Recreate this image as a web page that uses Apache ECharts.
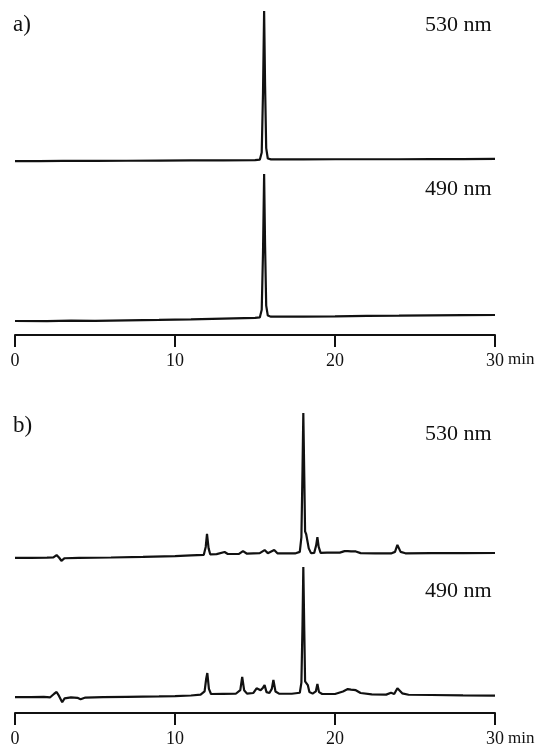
<!DOCTYPE html>
<html>
<head>
<meta charset="utf-8">
<script src="https://cdn.jsdelivr.net/npm/echarts@6/dist/echarts.min.js"></script>
<style>
html,body{margin:0;padding:0;background:#fff;}
#c{width:541px;height:748px;}
</style>
</head>
<body>
<div id="c"></div>
<script>
// time axis (min)
var xTicks = [0, 10, 20, 30];
var panelLabels = ['a)', 'b)'];
var traceLabels = ['530 nm', '490 nm', '530 nm', '490 nm'];

// relative absorbance, main peak = 100
var a530 = [[0,-0.7],[1.5,-0.8],[3,-0.6],[5,-0.6],[7,-0.5],[9,-0.4],[11,-0.3],[13,-0.2],[15.0,-0.1],[15.3,0.2],[15.42,5],[15.5,45],[15.57,100],[15.63,50],[15.7,8],[15.8,1],[16,0.4],[18,0.4],[20,0.5],[22,0.5],[24,0.5],[26,0.6],[28,0.6],[30,0.7]];

var a490 = [[0,-2.8],[2,-2.9],[3.5,-2.6],[5,-2.7],[7,-2.3],[9,-2.0],[11,-1.6],[13,-1.1],[15,-0.6],[15.3,-0.3],[15.42,5],[15.5,45],[15.57,100],[15.63,50],[15.7,8],[15.8,1],[16,0.2],[18,0.3],[20,0.5],[22,0.8],[24,0.9],[26,1.1],[28,1.3],[30,1.4]];

var b530 = [[0,-2.8],[1,-2.8],[2,-2.6],[2.4,-2.4],[2.6,-0.8],[2.75,-2.5],[2.9,-4.8],[3.1,-3.0],[4,-2.8],[6,-2.5],[8,-2.1],[10,-1.5],[11,-1.0],[11.8,-0.6],[11.92,5],[12.0,14.2],[12.1,4],[12.2,-0.2],[12.6,-0.1],[13.1,1.4],[13.3,0],[14.0,0.1],[14.25,2.1],[14.5,0.2],[15.3,0.6],[15.6,2.8],[15.8,0.6],[16.2,2.8],[16.4,0.5],[17.5,0.4],[17.8,1.5],[17.9,12],[17.97,60],[18.02,100],[18.08,55],[18.13,16],[18.2,14],[18.28,13],[18.36,4],[18.5,0.6],[18.7,0.8],[18.82,6],[18.9,12],[18.98,5],[19.1,0.8],[19.5,1],[20.3,1],[20.6,2],[20.8,2.1],[21.0,1.8],[21.3,1.8],[21.6,0.6],[22.5,0.4],[23.5,0.4],[23.75,1.5],[23.9,6.4],[24.1,1.5],[24.4,0.5],[26,0.6],[28,0.6],[30,0.7]];

var b490 = [[0,-2.4],[1,-2.4],[1.8,-2.2],[2.2,-2.6],[2.45,0.2],[2.6,1.6],[2.75,-1.5],[2.95,-6.5],[3.1,-3.5],[3.5,-2.6],[3.9,-3.0],[4.1,-4.2],[4.4,-2.8],[5.5,-2.5],[7,-2.2],[9,-1.9],[10,-1.6],[11,-1.2],[11.6,-0.5],[11.85,2],[11.95,12],[12.02,16.5],[12.12,4],[12.25,0],[13,0.1],[13.8,0.2],[14.08,3],[14.2,13.4],[14.32,3],[14.5,0.3],[14.9,0.8],[15.1,4.5],[15.2,5.5],[15.35,3],[15.5,5],[15.6,7],[15.72,1.5],[15.9,0.8],[16.05,4],[16.15,11],[16.28,2],[16.5,0.3],[17.3,0.2],[17.8,1],[17.9,9],[17.97,55],[18.02,100],[18.08,50],[18.13,10],[18.2,8.7],[18.3,7],[18.4,1.5],[18.6,0.3],[18.8,2],[18.9,7.9],[19.0,1.5],[19.2,0],[20,0],[20.5,2],[20.8,3.9],[21.0,3.5],[21.3,3.0],[21.6,0.8],[22.3,-0.3],[23.2,-0.5],[23.5,1],[23.7,0],[23.9,4.5],[24.0,5.5],[24.2,0.5],[24.6,-0.6],[26,-0.8],[28,-1.1],[30,-1.3]];

var traces = [a530, a490, b530, b490];

var INK = '#111';
var FONT = '"Liberation Serif","DejaVu Serif",serif';
var L = 15, R = 46;
// trace grids: top, height
var traceGrids = [
  {top: 11, height: 163.9},
  {top: 174, height: 157.3},
  {top: 413, height: 155.1},
  {top: 567, height: 139.7}
];
var axisGrids = [
  {top: 300, height: 35},
  {top: 679, height: 35}
];

var grid = [], xAxis = [], yAxis = [], series = [];
traceGrids.forEach(function (g, i) {
  grid.push({left: L, right: R, top: g.top, height: g.height});
  xAxis.push({type: 'value', gridIndex: i, min: 0, max: 30, show: false});
  yAxis.push({type: 'value', gridIndex: i, min: -10, max: 100, show: false});
  series.push({
    type: 'line', xAxisIndex: i, yAxisIndex: i, data: traces[i],
    showSymbol: false, symbol: 'none', smooth: false, animation: false,
    lineStyle: {color: INK, width: 2.2}, z: 3
  });
});
axisGrids.forEach(function (g, j) {
  var idx = traceGrids.length + j;
  grid.push({left: L, right: R, top: g.top, height: g.height});
  xAxis.push({
    type: 'value', gridIndex: idx, min: xTicks[0], max: xTicks[xTicks.length - 1],
    interval: xTicks[1] - xTicks[0], position: 'bottom',
    axisLine: {show: true, lineStyle: {color: INK, width: 2}},
    axisTick: {show: true, length: 12, lineStyle: {color: INK, width: 2}},
    splitLine: {show: false},
    axisLabel: {color: INK, fontFamily: FONT, fontSize: 18, margin: 17}
  });
  yAxis.push({type: 'value', gridIndex: idx, show: false, min: 0, max: 1});
});

function txt(x, y, s, size) {
  return {type: 'text', left: x, top: y, style: {text: s, fill: INK, font: size + 'px ' + FONT}, z: 10};
}

var graphic = [
  txt(13, 13, panelLabels[0], 23),
  txt(13, 414, panelLabels[1], 23),
  txt(425, 14, traceLabels[0], 22),
  txt(425, 178, traceLabels[1], 22),
  txt(425, 423, traceLabels[2], 22),
  txt(425, 580, traceLabels[3], 22),
  txt(508, 351, 'min', 17),
  txt(508, 730, 'min', 17)
];

var chart = echarts.init(document.getElementById('c'), null, {renderer: 'canvas'});
chart.setOption({
  backgroundColor: '#fff',
  animation: false,
  grid: grid, xAxis: xAxis, yAxis: yAxis, series: series, graphic: graphic
});
</script>
</body>
</html>
